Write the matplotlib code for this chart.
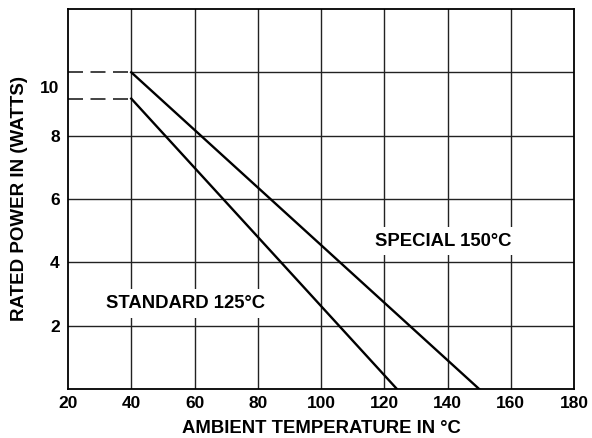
import matplotlib
matplotlib.use("Agg")
import matplotlib.pyplot as plt

plt.rcParams['font.family'] = ['Liberation Sans', 'DejaVu Sans']

# Data
special_temp = [40, 150]
special_power = [10.0, 0.0]
standard_temp = [40, 124]
standard_power = [9.17, 0.0]
x_ticks = [20, 40, 60, 80, 100, 120, 140, 160, 180]
x_labels = ["20", "40", "60", "80", "100", "120", "140", "160", "180"]
y_ticks = [2, 4, 6, 8, 9.55]
y_labels = ["2", "4", "6", "8", "10"]
grid_y = [2, 4, 6, 8]

fig = plt.figure(figsize=(5.92, 4.38), dpi=100)
ax = fig.add_axes([0.1149, 0.1119, 0.9696 - 0.1149, 0.9795 - 0.1119])
ax.set_xlim(20, 180)
ax.set_ylim(0, 12)

# grid
for xv in x_ticks[1:-1]:
    ax.axvline(xv, color='#222222', lw=1.0, zorder=1)
for yv in grid_y:
    ax.axhline(yv, color='#222222', lw=1.0, zorder=1)
# y=10 gridline solid from 40, dashed before
ax.plot([40, 180], [special_power[0]] * 2, color='#222222', lw=1.0, zorder=1)
ax.plot([20, 40], [special_power[0]] * 2, color='#222222', lw=1.2, ls=(0, (9, 4.5)), zorder=1)
ax.plot([20, 40], [standard_power[0]] * 2, color='#222222', lw=1.2, ls=(0, (9, 4.5)), zorder=1)

# derating curves
ax.plot(special_temp, special_power, color='black', lw=1.7, zorder=3)
ax.plot(standard_temp, standard_power, color='black', lw=1.7, zorder=3)

ax.text(138.6, 4.66, "SPECIAL 150°C", ha='center', va='center', fontsize=13.3,
        fontweight='bold', zorder=4,
        bbox=dict(facecolor='white', edgecolor='none', pad=4))
ax.text(57.3, 2.7, "STANDARD 125°C", ha='center', va='center', fontsize=13.3,
        fontweight='bold', zorder=4,
        bbox=dict(facecolor='white', edgecolor='none', pad=4))

ax.set_xticks(x_ticks)
ax.set_xticklabels(x_labels, fontsize=12.5, fontweight='bold')
ax.set_yticks(y_ticks)
ax.set_yticklabels(y_labels, fontsize=12.5, fontweight='bold')
ax.tick_params(axis='x', length=0, pad=5)
ax.tick_params(axis='y', length=0, pad=6)

for s in ax.spines.values():
    s.set_linewidth(1.3)
    s.set_color('black')

ax.set_xlabel("AMBIENT TEMPERATURE IN °C", fontsize=13.3, fontweight='bold', labelpad=6.5)
ax.set_ylabel("RATED POWER IN (WATTS)", fontsize=13.5, fontweight='bold', labelpad=9)

fig.savefig("out.png", dpi=100)
